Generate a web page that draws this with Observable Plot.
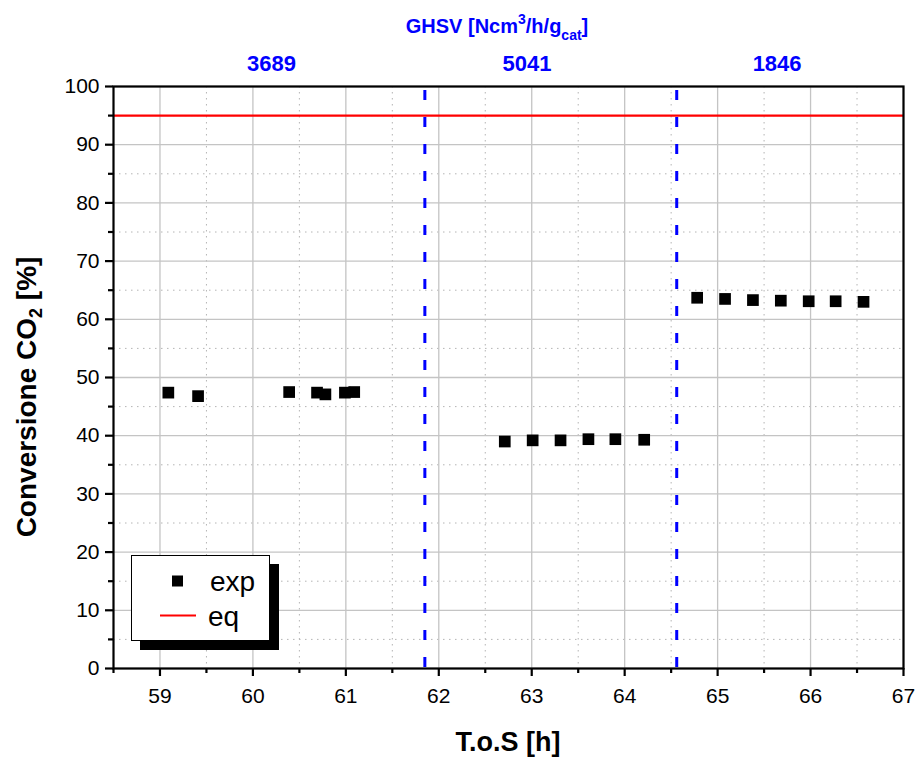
<!DOCTYPE html>
<html><head><meta charset="utf-8">
<script src="https://cdn.jsdelivr.net/npm/d3@7"></script>
<script src="https://cdn.jsdelivr.net/npm/@observablehq/plot@0.6"></script>
<style>
body{margin:0;background:#fff}
#chart svg{font-family:"Liberation Sans",Arial,sans-serif;display:block}
</style>
</head><body><div id="chart"></div>
<script>
// Data
const tos = [59.09, 59.41, 60.39, 60.69, 60.78, 60.99, 61.09,
             62.71, 63.01, 63.31, 63.61, 63.90, 64.21,
             64.78, 65.08, 65.38, 65.68, 65.98, 66.27, 66.57];
const conversion = [47.4, 46.8, 47.5, 47.4, 47.1, 47.4, 47.5,
                    39.0, 39.2, 39.2, 39.4, 39.4, 39.3,
                    63.7, 63.5, 63.3, 63.2, 63.1, 63.1, 63.0];
const eqValue = [95];
const ghsvBoundaries = [61.85, 64.56];
const ghsvLabels = ["3689", "5041", "1846"];
const ghsvLabelX = [60.2, 62.95, 65.64];
const xTicks = [59, 60, 61, 62, 63, 64, 65, 66, 67];
const xMinorTicks = [58.5, 59.5, 60.5, 61.5, 62.5, 63.5, 64.5, 65.5, 66.5];
const yTicks = [0, 10, 20, 30, 40, 50, 60, 70, 80, 90, 100];
const yMinorTicks = [5, 15, 25, 35, 45, 55, 65, 75, 85, 95];

const points = tos.map((t, i) => ({t, c: conversion[i]}));
const labels = ghsvLabels.map((l, i) => ({l, x: ghsvLabelX[i]}));

const W = 918, H = 758, mL = 113, mR = 15, mT = 86, mB = 90;
const font = '"Liberation Sans", Arial, sans-serif';

const plot = Plot.plot({
  width: W, height: H,
  marginLeft: mL, marginRight: mR, marginTop: mT, marginBottom: mB,
  x: {domain: [58.5, 67]},
  y: {domain: [0, 100]},
  style: {fontFamily: font, fontSize: "21px", color: "#000", background: "#fff", overflow: "visible"},
  marks: [
    Plot.gridX(xMinorTicks, {stroke: "#b4b4b4", strokeOpacity: 1, strokeDasharray: "1.5,4.5"}),
    Plot.gridY(yMinorTicks, {stroke: "#b4b4b4", strokeOpacity: 1, strokeDasharray: "1.5,4.5"}),
    Plot.gridX(xTicks, {stroke: "#c4c4c4", strokeOpacity: 1, strokeWidth: 1.3}),
    Plot.gridY(yTicks, {stroke: "#c4c4c4", strokeOpacity: 1, strokeWidth: 1.3}),
    Plot.ruleY(eqValue, {stroke: "#ff0000", strokeWidth: 2.2}),
    Plot.ruleX(ghsvBoundaries, {stroke: "#0000ff", strokeWidth: 3, strokeDasharray: "10,17", strokeDashoffset: -4}),
    Plot.dot(points, {x: "t", y: "c", symbol: "square", r: 6.6, fill: "#000", stroke: null}),
    Plot.frame({stroke: "#000", strokeWidth: 2.2}),
    Plot.axisX(xTicks, {tickSize: 8, tickPadding: 12, strokeWidth: 2.2, fontSize: 21, label: null}),
    Plot.axisX(xMinorTicks, {tickSize: 5, text: null, strokeWidth: 2.2, label: null}),
    Plot.axisY(yTicks, {tickSize: 8, tickPadding: 6, strokeWidth: 2.2, fontSize: 21, label: null}),
    Plot.axisY(yMinorTicks, {tickSize: 5, text: null, strokeWidth: 2.2, label: null}),
    Plot.text(labels, {x: "x", frameAnchor: "top", text: "l", dy: -31, fill: "#0000ff", fontWeight: "bold", fontSize: 22})
  ]
});

document.getElementById("chart").appendChild(plot);

const svg = d3.select(plot);

// Top axis title
const t = svg.append("text")
  .attr("x", 497).attr("y", 33)
  .attr("text-anchor", "middle")
  .attr("fill", "#0000ff").attr("font-weight", "bold").attr("font-size", 20)
  .attr("font-family", font);
t.append("tspan").text("GHSV [Ncm");
t.append("tspan").attr("font-size", 14).attr("dy", -9).text("3");
t.append("tspan").attr("dy", 9).text("/h/g");
t.append("tspan").attr("font-size", 14).attr("dy", 7).text("cat");
t.append("tspan").attr("dy", -7).text("]");

// X axis title
svg.append("text")
  .attr("x", 508).attr("y", 751)
  .attr("text-anchor", "middle")
  .attr("font-weight", "bold").attr("font-size", 27).attr("font-family", font)
  .attr("fill", "#000")
  .text("T.o.S [h]");

// Y axis title
const yl = svg.append("text")
  .attr("transform", `translate(36,397) rotate(-90)`)
  .attr("text-anchor", "middle")
  .attr("font-weight", "bold").attr("font-size", 28).attr("font-family", font)
  .attr("fill", "#000");
yl.append("tspan").text("Conversione CO");
yl.append("tspan").attr("font-size", 18).attr("dy", 6).text("2");
yl.append("tspan").attr("dy", -6).text(" [%]");

// Legend
const lg = svg.append("g").attr("text-anchor", "start");
lg.append("rect").attr("x", 140).attr("y", 564).attr("width", 139).attr("height", 86).attr("fill", "#000");
lg.append("rect").attr("x", 131.5).attr("y", 555.5).attr("width", 138).attr("height", 85)
  .attr("fill", "#fff").attr("stroke", "#000").attr("stroke-width", 1);
lg.append("rect").attr("x", 172).attr("y", 575.5).attr("width", 11).attr("height", 11).attr("fill", "#000");
lg.append("text").attr("x", 210).attr("y", 591).attr("text-anchor", "start").attr("font-size", 28).attr("font-family", font).attr("fill", "#000").text("exp");
lg.append("line").attr("x1", 160).attr("x2", 196).attr("y1", 615.5).attr("y2", 615.5).attr("stroke", "#ff0000").attr("stroke-width", 2);
lg.append("text").attr("x", 208).attr("y", 626).attr("text-anchor", "start").attr("font-size", 28).attr("font-family", font).attr("fill", "#000").text("eq");
</script>
</body></html>
